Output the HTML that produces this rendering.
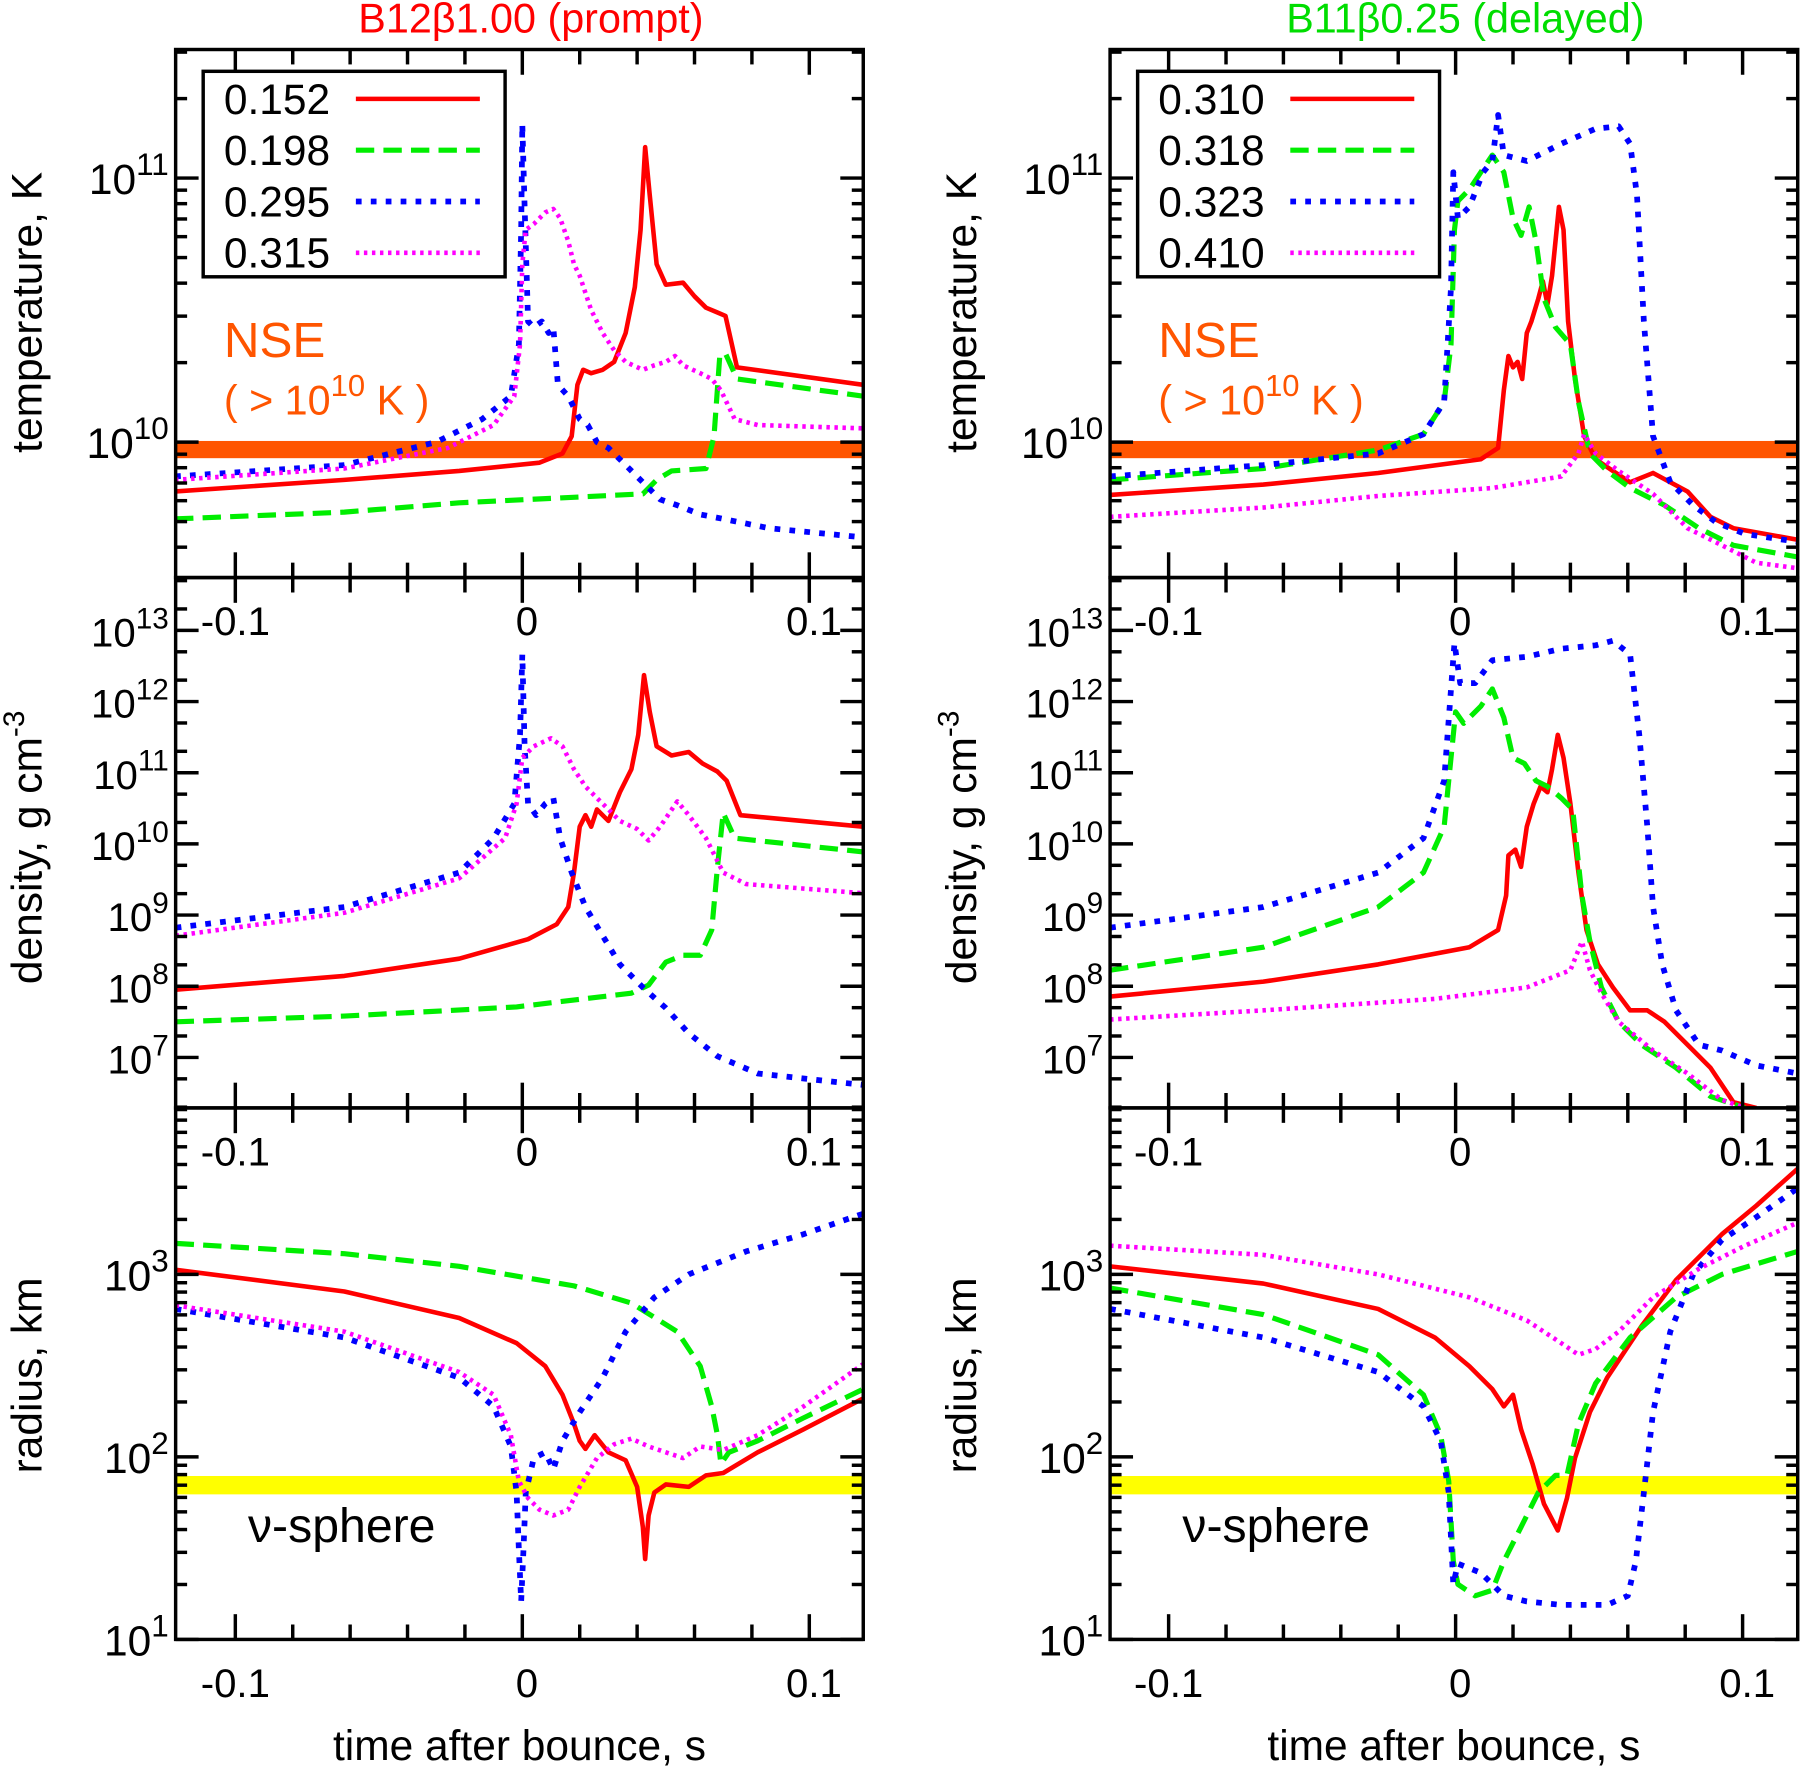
<!DOCTYPE html>
<html><head><meta charset="utf-8"><style>
html,body{margin:0;padding:0;background:#fff}
svg{display:block;font-family:"Liberation Sans",sans-serif}
</style></head><body>
<svg id="fig" width="1800" height="1767" viewBox="0 0 1568 1539" xmlns="http://www.w3.org/2000/svg"></svg>
<script>
// ---- data: [time (s), log10 value] ----
const xTicks=[-0.1,-0.08,-0.06,-0.04,-0.02,0,0.02,0.04,0.06,0.08,0.1];
const xTickLabels=[-0.1,0,0.1];
const tempTicks=[10,11];
const densTicks=[7,8,9,10,11,12,13];
const radTicks=[1,2,3];
const legendLeft=["0.152","0.198","0.295","0.315"];
const legendRight=["0.310","0.318","0.323","0.410"];

const tL_red=[[-0.121,9.813],[-0.062,9.857],[-0.022,9.891],[0.006,9.922],[0.014,9.957],[0.0172,10.022],[0.0192,10.217],[0.0212,10.274],[0.024,10.261],[0.028,10.274],[0.032,10.304],[0.036,10.413],[0.0392,10.587],[0.0412,10.804],[0.0428,11.117],[0.0444,10.935],[0.0468,10.674],[0.05,10.596],[0.056,10.604],[0.06,10.552],[0.064,10.509],[0.068,10.491],[0.0708,10.478],[0.0748,10.283],[0.1188,10.217]];
const tL_green=[[-0.121,9.709],[-0.062,9.735],[-0.022,9.77],[0.042,9.804],[0.0468,9.857],[0.052,9.891],[0.064,9.9],[0.0668,10.022],[0.0688,10.326],[0.0708,10.335],[0.0748,10.239],[0.1188,10.174]];
const tL_blue=[[-0.121,9.87],[-0.062,9.913],[-0.03,10],[-0.014,10.087],[-0.004,10.174],[-0.0012,10.37],[-0.0004,10.804],[0,11.204],[0.0008,10.891],[0.002,10.457],[0.004,10.435],[0.0068,10.457],[0.0092,10.413],[0.0108,10.435],[0.0124,10.217],[0.016,10.174],[0.02,10.087],[0.0228,10.065],[0.026,10.0],[0.03,9.978],[0.036,9.913],[0.042,9.848],[0.048,9.783],[0.054,9.761],[0.062,9.726],[0.07,9.709],[0.086,9.674],[0.1188,9.639]];
const tL_mag=[[-0.121,9.857],[-0.062,9.9],[-0.026,9.978],[-0.01,10.065],[-0.0028,10.174],[-0.0008,10.37],[0,10.674],[0.0012,10.804],[0.004,10.826],[0.008,10.87],[0.0108,10.883],[0.0132,10.848],[0.016,10.761],[0.018,10.674],[0.02,10.63],[0.024,10.5],[0.028,10.413],[0.032,10.348],[0.036,10.304],[0.042,10.274],[0.046,10.291],[0.05,10.304],[0.0532,10.326],[0.056,10.291],[0.062,10.261],[0.066,10.239],[0.0692,10.196],[0.074,10.087],[0.082,10.065],[0.1188,10.052]];

const tR_red=[[-0.1204,9.8],[-0.067,9.839],[-0.027,9.883],[0.0088,9.935],[0.0148,9.978],[0.0168,10.196],[0.0184,10.326],[0.02,10.283],[0.0216,10.304],[0.0232,10.239],[0.0248,10.413],[0.0264,10.457],[0.0288,10.543],[0.0304,10.609],[0.032,10.522],[0.0336,10.63],[0.036,10.891],[0.0376,10.804],[0.0392,10.457],[0.0416,10.239],[0.0448,10.022],[0.0488,9.935],[0.0548,9.891],[0.0608,9.848],[0.0688,9.883],[0.0748,9.848],[0.0808,9.813],[0.0888,9.717],[0.0968,9.674],[0.1192,9.63]];
const tR_green=[[-0.1204,9.857],[-0.067,9.9],[-0.027,9.97],[-0.0112,10.03],[-0.004,10.152],[-0.0016,10.37],[-0.0004,10.804],[0.0008,10.913],[0.0048,10.957],[0.0088,11.022],[0.0128,11.087],[0.0168,11.022],[0.02,10.848],[0.0228,10.783],[0.0256,10.891],[0.028,10.761],[0.0308,10.543],[0.0348,10.435],[0.04,10.37],[0.0428,10.152],[0.0468,9.957],[0.0528,9.891],[0.0608,9.826],[0.0728,9.761],[0.0848,9.674],[0.0968,9.609],[0.1192,9.565]];
const tR_blue=[[-0.1204,9.87],[-0.067,9.913],[-0.027,9.957],[-0.0112,10.03],[-0.004,10.152],[-0.0016,10.587],[-0.0008,11.022],[0.0008,10.848],[0.0048,10.891],[0.0096,11.022],[0.0128,11.065],[0.0148,11.239],[0.0168,11.087],[0.0248,11.065],[0.0368,11.13],[0.0488,11.187],[0.0568,11.196],[0.0608,11.13],[0.0632,10.935],[0.0656,10.457],[0.0688,10.022],[0.0748,9.848],[0.0828,9.761],[0.0908,9.696],[0.1008,9.652],[0.1192,9.622]];
const tR_mag=[[-0.1204,9.717],[-0.067,9.752],[-0.027,9.796],[0.0128,9.826],[0.0368,9.87],[0.0428,9.957],[0.0448,10.03],[0.0488,9.957],[0.0568,9.891],[0.0688,9.804],[0.0808,9.674],[0.0928,9.609],[0.1048,9.543],[0.1192,9.522]];

const dL_red=[[-0.1208,7.952],[-0.062,8.145],[-0.022,8.387],[0.002,8.661],[0.012,8.871],[0.016,9.113],[0.018,9.597],[0.02,10.242],[0.022,10.403],[0.024,10.242],[0.026,10.484],[0.03,10.323],[0.034,10.726],[0.038,11.048],[0.0404,11.532],[0.0424,12.371],[0.0444,11.855],[0.0468,11.371],[0.052,11.242],[0.058,11.29],[0.0628,11.129],[0.068,11.016],[0.0712,10.887],[0.076,10.403],[0.1188,10.242]];
const dL_green=[[-0.1208,7.5],[-0.062,7.581],[-0.002,7.71],[0.038,7.903],[0.044,8.016],[0.05,8.339],[0.056,8.435],[0.062,8.435],[0.066,8.79],[0.068,9.677],[0.07,10.435],[0.074,10.081],[0.1188,9.887]];
const dL_blue=[[-0.1208,8.823],[-0.062,9.113],[-0.022,9.597],[-0.01,10.081],[-0.0028,10.565],[-0.0008,11.532],[0,12.661],[0.0008,11.371],[0.002,10.565],[0.0048,10.403],[0.008,10.565],[0.0108,10.645],[0.0132,10.081],[0.0172,9.597],[0.022,9.113],[0.028,8.71],[0.034,8.306],[0.042,7.984],[0.05,7.694],[0.058,7.339],[0.068,7.016],[0.082,6.774],[0.1188,6.613]];
const dL_mag=[[-0.1208,8.71],[-0.062,9.032],[-0.022,9.516],[-0.006,10.081],[-0.002,10.565],[0,11.21],[0.004,11.371],[0.01,11.484],[0.014,11.371],[0.018,11.048],[0.022,10.806],[0.028,10.565],[0.034,10.323],[0.04,10.21],[0.044,10.048],[0.048,10.242],[0.054,10.597],[0.058,10.403],[0.064,10.081],[0.07,9.597],[0.078,9.435],[0.1188,9.306]];

const dR_red=[[-0.1204,7.855],[-0.067,8.065],[-0.027,8.306],[0.0048,8.548],[0.0148,8.79],[0.0176,9.274],[0.0184,9.839],[0.0208,9.919],[0.0228,9.677],[0.0248,10.242],[0.0272,10.565],[0.0296,10.806],[0.032,10.726],[0.0336,11.048],[0.0356,11.532],[0.0376,11.21],[0.04,10.565],[0.0428,9.597],[0.0456,8.79],[0.0496,8.306],[0.0548,7.984],[0.0608,7.661],[0.0668,7.661],[0.0728,7.5],[0.0808,7.177],[0.0888,6.855],[0.0968,6.371],[0.1048,6.29]];
const dR_green=[[-0.1204,8.226],[-0.067,8.548],[-0.027,9.113],[-0.0112,9.597],[-0.004,10.242],[-0.0016,11.21],[0,11.855],[0.0028,11.694],[0.0088,11.935],[0.0128,12.177],[0.0168,11.774],[0.02,11.21],[0.024,11.129],[0.028,10.887],[0.032,10.806],[0.0368,10.645],[0.0408,10.484],[0.044,9.274],[0.0468,8.629],[0.0508,7.984],[0.0568,7.5],[0.0648,7.177],[0.0768,6.855],[0.0888,6.452],[0.1008,6.29]];
const dR_blue=[[-0.1204,8.823],[-0.067,9.113],[-0.027,9.597],[-0.0112,10.081],[-0.004,10.887],[-0.0016,12.177],[-0.0004,12.823],[0.0016,12.258],[0.0068,12.258],[0.0128,12.581],[0.0248,12.629],[0.0368,12.742],[0.0488,12.79],[0.0548,12.855],[0.0608,12.661],[0.064,11.532],[0.0668,10.242],[0.0688,9.113],[0.072,8.306],[0.0768,7.661],[0.0848,7.177],[0.0928,7.097],[0.1048,6.887],[0.1192,6.774]];
const dR_mag=[[-0.1204,7.532],[-0.067,7.661],[-0.0072,7.823],[0.0248,7.984],[0.04,8.226],[0.044,8.629],[0.0468,8.226],[0.0508,7.903],[0.0568,7.5],[0.0688,7.097],[0.0808,6.774],[0.0928,6.403],[0.1008,6.29]];

const rL_red=[[-0.1208,3.025],[-0.062,2.906],[-0.022,2.761],[-0.002,2.623],[0.008,2.497],[0.014,2.34],[0.018,2.182],[0.02,2.088],[0.022,2.044],[0.0252,2.119],[0.03,2.025],[0.036,1.981],[0.04,1.836],[0.042,1.616],[0.0428,1.44],[0.044,1.679],[0.046,1.805],[0.05,1.849],[0.058,1.836],[0.064,1.899],[0.07,1.912],[0.082,2.025],[0.098,2.151],[0.1188,2.321]];
const rL_green=[[-0.1208,3.17],[-0.062,3.113],[-0.022,3.044],[0.018,2.937],[0.038,2.843],[0.054,2.686],[0.062,2.497],[0.066,2.277],[0.068,2.119],[0.0692,1.962],[0.072,2.025],[0.082,2.088],[0.098,2.214],[0.1188,2.371]];
const rL_blue=[[-0.1208,2.811],[-0.062,2.654],[-0.022,2.434],[-0.01,2.277],[-0.004,2.057],[-0.002,1.805],[-0.0012,1.491],[-0.0004,1.208],[0.0004,1.491],[0.0012,1.805],[0.004,1.994],[0.008,2.025],[0.0108,1.931],[0.014,2.088],[0.02,2.245],[0.028,2.434],[0.036,2.686],[0.046,2.874],[0.058,3.0],[0.078,3.126],[0.098,3.22],[0.1188,3.333]];
const rL_mag=[[-0.1208,2.83],[-0.062,2.686],[-0.022,2.465],[-0.01,2.34],[-0.004,2.119],[-0.0012,1.868],[0.002,1.774],[0.006,1.711],[0.0108,1.679],[0.016,1.711],[0.02,1.836],[0.026,1.994],[0.032,2.069],[0.038,2.1],[0.044,2.057],[0.05,2.025],[0.056,1.994],[0.062,2.057],[0.07,2.038],[0.082,2.119],[0.098,2.277],[0.1188,2.509]];

const rR_red=[[-0.1204,3.044],[-0.067,2.95],[-0.027,2.811],[-0.0072,2.654],[0.0048,2.497],[0.0128,2.371],[0.0168,2.277],[0.02,2.34],[0.0228,2.151],[0.0268,1.962],[0.0308,1.742],[0.0356,1.597],[0.0388,1.774],[0.0416,1.994],[0.0468,2.245],[0.0528,2.434],[0.0648,2.717],[0.0768,2.969],[0.0928,3.22],[0.1048,3.377],[0.1192,3.579]];
const rR_green=[[-0.1204,2.925],[-0.067,2.78],[-0.027,2.56],[-0.0112,2.34],[-0.0052,2.119],[-0.0024,1.868],[-0.0008,1.428],[0.0008,1.302],[0.0068,1.239],[0.0128,1.27],[0.0168,1.428],[0.0228,1.616],[0.0288,1.805],[0.0348,1.899],[0.0388,1.899],[0.0428,2.182],[0.0488,2.403],[0.0608,2.654],[0.0768,2.874],[0.0928,3.0],[0.1192,3.126]];
const rR_blue=[[-0.1204,2.811],[-0.067,2.654],[-0.027,2.465],[-0.0112,2.277],[-0.0052,2.088],[-0.0024,1.805],[-0.0008,1.302],[0.0008,1.415],[0.0088,1.365],[0.0168,1.239],[0.0248,1.208],[0.0368,1.189],[0.0528,1.189],[0.06,1.239],[0.0628,1.428],[0.0656,1.805],[0.0688,2.245],[0.0748,2.686],[0.0828,3.0],[0.0928,3.189],[0.1048,3.314],[0.1192,3.472]];
const rR_mag=[[-0.1204,3.157],[-0.067,3.107],[-0.027,3.0],[0.0048,2.874],[0.0248,2.748],[0.0368,2.623],[0.0428,2.56],[0.0488,2.591],[0.0568,2.686],[0.0688,2.874],[0.0848,3.031],[0.1008,3.157],[0.1192,3.283]];

// ---- rendering ----
const NS="http://www.w3.org/2000/svg";
const svg=document.getElementById('fig');
function el(tag,attrs,parent,text){const e=document.createElementNS(NS,tag);for(const k in attrs)e.setAttribute(k,attrs[k]);if(text!==undefined)e.textContent=text;(parent||svg).appendChild(e);return e;}
const STY={
 red:{stroke:"#ff0000",w:4,dash:null},
 green:{stroke:"#00ee00",w:4.5,dash:"16 8"},
 blue:{stroke:"#0000ff",w:5,dash:"5 8"},
 mag:{stroke:"#ff00ff",w:4,dash:"3 4"}
};
const cols=[{x0:153,x1:752,zero:455},{x0:967,x1:1566,zero:1268}];
const rows=[{y0:43,y1:503,refY:155,refV:11,pxd:230,minors:[2,3,4,5,6,7,8,9]},{y0:503,y1:965,refY:549,refV:13,pxd:62,minors:[2,5]},{y0:965,y1:1428,refY:1269,refV:2,pxd:159,minors:[2,3,4,5,6,7,8,9]}];
const PX=2500;
const series=[
 [[tL_red,tL_green,tL_blue,tL_mag],[dL_red,dL_green,dL_blue,dL_mag],[rL_red,rL_green,rL_blue,rL_mag]],
 [[tR_red,tR_green,tR_blue,tR_mag],[dR_red,dR_green,dR_blue,dR_mag],[rR_red,rR_green,rR_blue,rR_mag]]];
const keys=["red","green","blue","mag"];
const majorTicks=[tempTicks,densTicks,radTicks];
const names=["temperature","density","radius"];

function sup(parent,x,y,base,exp,size,anchor,fill,ratio){
 const t=el('text',{x:x,y:y,'font-size':size,'text-anchor':anchor||'end',fill:fill||'#000'},parent);
 el('tspan',{},t,base);
 el('tspan',{dy:-size*0.45,'font-size':size*(ratio||0.74)},t,exp);
 return t;
}

cols.forEach((c,ci)=>{
 const side=ci===0?'left':'right';
 const xs=t=>c.zero+t*PX;
 rows.forEach((r,ri)=>{
  const g=el('g',{});
  
  
  const ys=v=>r.refY-(v-r.refV)*r.pxd;
  const cid='clip'+ci+ri;
  const cp=el('clipPath',{id:cid},g);el('rect',{x:c.x0,y:r.y0,width:c.x1-c.x0,height:r.y1-r.y0},cp);
  if(ri===0){const b=el('rect',{x:c.x0,y:ys(10)-1,width:c.x1-c.x0,height:15,fill:'#ff5500'},g);}
  if(ri===2){const b=el('rect',{x:c.x0,y:ys(Math.log10(70))-8,width:c.x1-c.x0,height:16,fill:'#ffff00'},g);}
  const sg=el('g',{'clip-path':'url(#'+cid+')'},g);
  series[ci][ri].forEach((d,si)=>{
   const s=STY[keys[si]];
   const p=el('polyline',{points:d.map(q=>xs(q[0]).toFixed(1)+','+ys(q[1]).toFixed(1)).join(' '),fill:'none',stroke:s.stroke,'stroke-width':s.w,'stroke-linejoin':'round'},sg);
   if(s.dash)p.setAttribute('stroke-dasharray',s.dash);
   
   
  });
  el('rect',{x:c.x0,y:r.y0,width:c.x1-c.x0,height:r.y1-r.y0,fill:'none',stroke:'#000','stroke-width':3},g);
  xTicks.forEach(t=>{
   const x=xs(t);const major=Math.abs(Math.round(t*10)-t*10)<1e-6;const L=major?22:13;
   el('line',{x1:x,x2:x,y1:r.y1,y2:r.y1-L,stroke:'#000','stroke-width':3},g);
   el('line',{x1:x,x2:x,y1:r.y0,y2:r.y0+L,stroke:'#000','stroke-width':3},g);
  });
  const vmin=r.refV-(r.y1-r.refY)/r.pxd, vmax=r.refV+(r.refY-r.y0)/r.pxd;
  for(let dec=Math.floor(vmin);dec<=Math.ceil(vmax);dec++){
   [1].concat(r.minors).forEach(m=>{
    const v=dec+Math.log10(m);if(v<vmin||v>vmax)return;
    const y=ys(v);const L=m===1?20:10;
    el('line',{x1:c.x0,x2:c.x0+L,y1:y,y2:y,stroke:'#000','stroke-width':3},g);
    el('line',{x1:c.x1,x2:c.x1-L,y1:y,y2:y,stroke:'#000','stroke-width':3},g);
   });
  }
  majorTicks[ri].forEach(v=>{
   const fs=ri===1?35:37;
   const t=sup(g,c.x0-6,ys(v)+14,'10',String(v),fs,'end');
   
  });
  const ly=ri===2?1478:(r.y1+50);
  xTickLabels.forEach(t=>{
   const tx=el('text',{x:xs(t)+(t<0?0:4),y:ly,'font-size':35,'text-anchor':'middle',fill:'#000'},g,String(t));
   
  });
 });
 const yt=[["temperature, K",272],["density, g cm",738],["radius, km",1198]];
 yt.forEach((a,i)=>{
  const x=c.x0-117;
  const t=el('text',{x:0,y:0,'font-size':37,'text-anchor':'middle',transform:'translate('+x+','+a[1]+') rotate(-90)'},svg,a[0]);
  if(i===1){el('tspan',{dy:-15,'font-size':26},t,'-3');}
  
 });
 const xt=el('text',{x:(c.x0+c.x1)/2,y:1533,'font-size':37,'text-anchor':'middle'},svg,'time after bounce, s');
 
 const title=el('text',{x:(c.x0+c.x1)/2+10,y:28,'font-size':36,'text-anchor':'middle',fill:ci===0?'#ff0000':'#00dd00'},svg,ci===0?'B12β1.00 (prompt)':'B11β0.25 (delayed)');
 
 const lg=el('g',{});
 
 const lx=c.x0+24;
 el('rect',{x:lx,y:62,width:263,height:179,fill:'#fff',stroke:'#000','stroke-width':3},lg);
 const labels=ci===0?legendLeft:legendRight;
 labels.forEach((lab,i)=>{
  const y=86+i*44.7;
  const tx=el('text',{x:lx+18,y:y+13,'font-size':37},lg,lab);
  
  const s=STY[keys[i]];
  const ln=el('line',{x1:lx+133,x2:lx+241,y1:y,y2:y,stroke:s.stroke,'stroke-width':s.w},lg);
  if(s.dash)ln.setAttribute('stroke-dasharray',s.dash);
 });
 const nse=el('text',{x:c.x0+42,y:311,'font-size':43,fill:'#ff5500'},svg,'NSE');
 
 const nse2=el('text',{x:c.x0+42,y:361,'font-size':36,fill:'#ff5500'},svg);
 
 el('tspan',{},nse2,'( > 10');el('tspan',{dy:-16,'font-size':27},nse2,'10');el('tspan',{dy:16},nse2,' K )');
 const nu=el('text',{x:c.x0+63,y:1343,'font-size':42},svg,'ν-sphere');
 
});
</script>
</body></html>
